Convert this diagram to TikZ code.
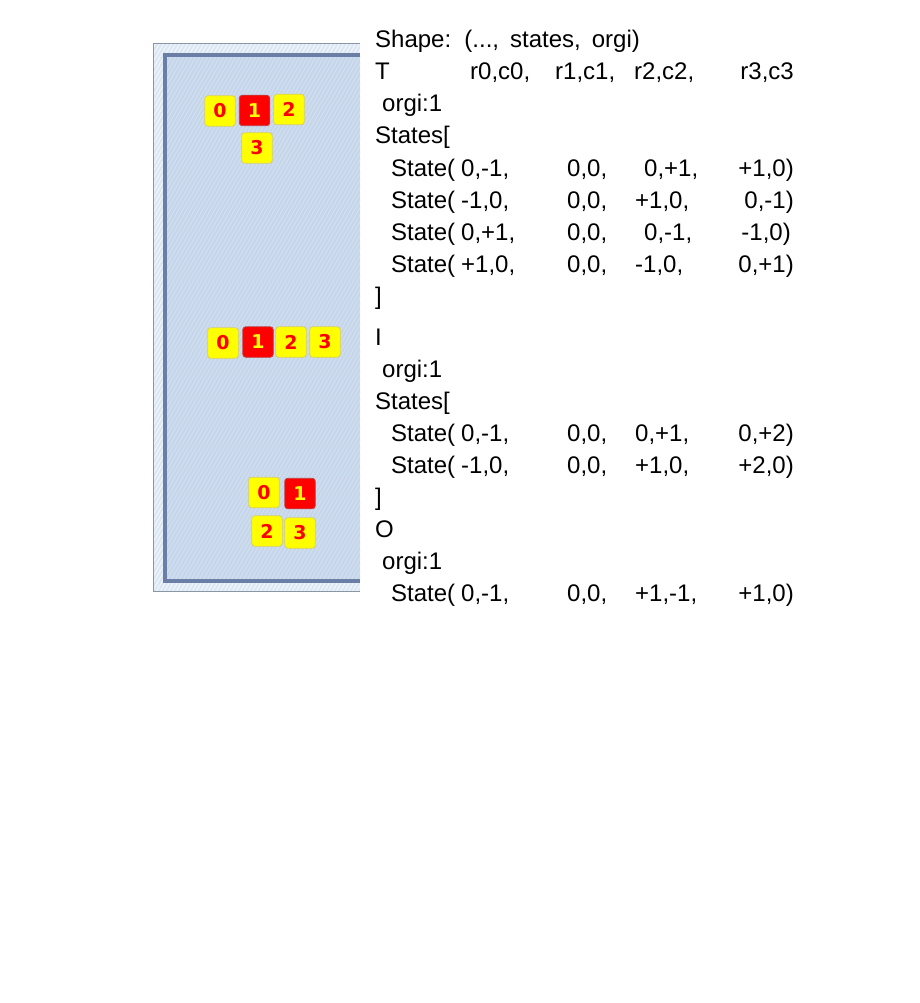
\documentclass[tikz,border=0pt]{standalone}
\usepackage{fontspec}
\setmainfont{Liberation Sans}
\newfontfamily\tilefont{DejaVu Sans}
\definecolor{panelbg}{HTML}{C5D6EB}
\definecolor{panelstripe}{HTML}{D2DFEF}
\definecolor{bandbg}{HTML}{DCE7F4}
\definecolor{bandstripe}{HTML}{F2F6FB}
\definecolor{framedark}{HTML}{6B7FA6}
\definecolor{outerline}{HTML}{8A95A5}
\definecolor{tileyellow}{HTML}{FFFF00}
\definecolor{tilered}{HTML}{FF0000}
\definecolor{yellowedge}{HTML}{D8D060}
\definecolor{rededge}{HTML}{C04040}
\begin{document}
\begin{tikzpicture}[x=1pt,y=-1pt,
  tile/.style={minimum width=30.5pt, minimum height=30.5pt, inner sep=0pt, rounded corners=3pt, fill=tileyellow, draw=yellowedge, line width=0.8pt, text=tilered, font=\tilefont\bfseries\fontsize{19}{19}\selectfont},
  redtile/.style={tile, fill=tilered, draw=rededge, text=tileyellow},
  code/.style={anchor=base west, inner sep=0pt, font=\fontsize{24}{28}\selectfont},
  codeR/.style={code, anchor=base east}]
\useasboundingbox (0,0) rectangle (919,1003);
\fill[white] (0,0) rectangle (919,1003);
% panel
\fill[bandbg] (153,43) rectangle (360,592);
\begin{scope}
\clip (153,43) rectangle (360,592);
\foreach \i in {-340,-336,...,360} \draw[bandstripe, line width=1pt] (\i,592) -- ++(320,-549);
\end{scope}
\fill[panelbg] (167,57) rectangle (360,579);
\begin{scope}
\clip (167,57) rectangle (360,579);
\foreach \i in {-340,-336,...,360} \draw[panelstripe, line width=1pt] (\i,592) -- ++(320,-549);
\end{scope}
\draw[framedark, line width=4pt] (360,55) -- (165,55) -- (165,581) -- (360,581);
\draw[outerline, line width=1pt] (360,43.5) -- (153.5,43.5) -- (153.5,591.5) -- (360,591.5);
% T tiles
\node[tile] (t0) at (220,111) {0};
\node[redtile] (t1) at (254.5,110.5) {1};
\node[tile] (t2) at (289,109.5) {2};
\node[tile] (t3) at (257,148) {3};
% I tiles
\node[tile] (i0) at (223,343) {0};
\node[redtile] (i1) at (258,342) {1};
\node[tile] (i2) at (291,342) {2};
\node[tile] (i3) at (325,342) {3};
% O tiles
\node[tile] (o0) at (264,492.5) {0};
\node[redtile] (o1) at (300,493.5) {1};
\node[tile] (o2) at (267,531) {2};
\node[tile] (o3) at (300,533) {3};
% text block 1
\node[code] (shape) at (375,48) {\spaceskip=11pt Shape: (..., states, orgi)};
\node[code] (tname) at (375,80) {T};
\node[code] (th0) at (470,80) {r0,c0,};
\node[code] (th1) at (555,80) {r1,c1,};
\node[code] (th2) at (634,80) {r2,c2,};
\node[codeR] (th3) at (794,80) {r3,c3};
\node[code] (torgi) at (382,112) {orgi:1};
\node[code] (tstates) at (375,144) {States[};
\node[code] (tas) at (391,176) {State(};
\node[code] (ta0) at (461,176) {0,-1,};
\node[code] (ta1) at (567,176) {0,0,};
\node[code] (ta2) at (644,176) {0,+1,};
\node[codeR] (ta3) at (794,176) {+1,0)};
\node[code] (tbs) at (391,208) {State(};
\node[code] (tb0) at (461,208) {-1,0,};
\node[code] (tb1) at (567,208) {0,0,};
\node[code] (tb2) at (635,208) {+1,0,};
\node[codeR] (tb3) at (794,208) {0,-1)};
\node[code] (tcs) at (391,240) {State(};
\node[code] (tc0) at (461,240) {0,+1,};
\node[code] (tc1) at (567,240) {0,0,};
\node[code] (tc2) at (644,240) {0,-1,};
\node[codeR] (tc3) at (791,240) {-1,0)};
\node[code] (tds) at (391,272) {State(};
\node[code] (td0) at (461,272) {+1,0,};
\node[code] (td1) at (567,272) {0,0,};
\node[code] (td2) at (635,272) {-1,0,};
\node[codeR] (td3) at (794,272) {0,+1)};
\node[code] (tend) at (375,304) {]};
% text block 2
\node[code] (iname) at (375,345) {I};
\node[code] (iorgi) at (382,377) {orgi:1};
\node[code] (istates) at (375,409) {States[};
\node[code] (ias) at (391,441) {State(};
\node[code] (ia0) at (461,441) {0,-1,};
\node[code] (ia1) at (567,441) {0,0,};
\node[code] (ia2) at (635,441) {0,+1,};
\node[codeR] (ia3) at (794,441) {0,+2)};
\node[code] (ibs) at (391,473) {State(};
\node[code] (ib0) at (461,473) {-1,0,};
\node[code] (ib1) at (567,473) {0,0,};
\node[code] (ib2) at (635,473) {+1,0,};
\node[codeR] (ib3) at (794,473) {+2,0)};
\node[code] (iend) at (375,505) {]};
\node[code] (oname) at (375,537) {O};
\node[code] (oorgi) at (382,569) {orgi:1};
\node[code] (oas) at (391,601) {State(};
\node[code] (oa0) at (461,601) {0,-1,};
\node[code] (oa1) at (567,601) {0,0,};
\node[code] (oa2) at (635,601) {+1,-1,};
\node[codeR] (oa3) at (794,601) {+1,0)};
\end{tikzpicture}
\end{document}
